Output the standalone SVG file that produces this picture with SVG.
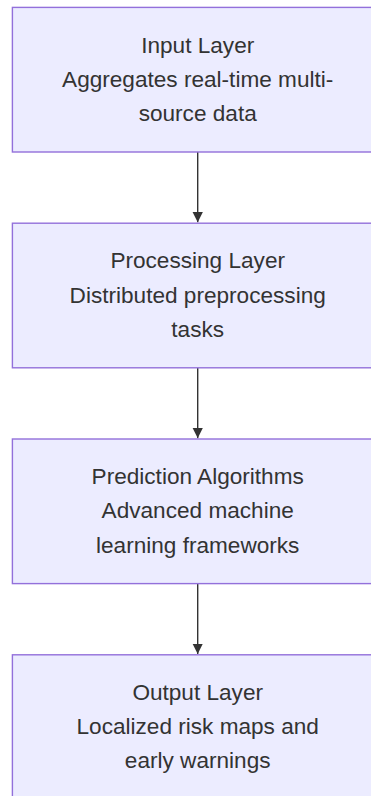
<svg xmlns="http://www.w3.org/2000/svg" width="371" height="796" viewBox="0 0 371 796">
<style>
.node rect{fill:#ECECFF;stroke:#9370DB;stroke-width:1.4}
.node text{font-family:"Liberation Sans",Arial,sans-serif;font-size:22.6px;fill:#333;text-anchor:middle}
.edge{stroke:#333;stroke-width:1.4;fill:none}
</style>
<defs>
<marker id="arrow" viewBox="0 0 10 10" refX="10" refY="5" markerWidth="7.5" markerHeight="7.5" markerUnits="strokeWidth" orient="auto">
<path d="M0,0 L10,5 L0,10 z" fill="#333"/>
</marker>
</defs>
<g id="connectors">
<path class="edge" d="M197.7,152 L197.7,222.3" marker-end="url(#arrow)"/>
<path class="edge" d="M197.7,367.8 L197.7,438.2" marker-end="url(#arrow)"/>
<path class="edge" d="M197.7,583.6 L197.7,654" marker-end="url(#arrow)"/>
</g>
<g id="input" class="node">
<rect x="12.4" y="7.4" width="371.4" height="144.6"/>
<text x="197.7" y="52.6">Input Layer</text>
<text x="197.7" y="86.9">Aggregates real-time multi-</text>
<text x="197.7" y="121.2">source data</text>
</g>
<g id="processing" class="node">
<rect x="12.4" y="223.2" width="371.4" height="144.6"/>
<text x="197.7" y="268.4">Processing Layer</text>
<text x="197.7" y="302.7">Distributed preprocessing</text>
<text x="197.7" y="337">tasks</text>
</g>
<g id="prediction" class="node">
<rect x="12.4" y="439" width="371.4" height="144.6"/>
<text x="197.7" y="484">Prediction Algorithms</text>
<text x="197.7" y="518.3">Advanced machine</text>
<text x="197.7" y="552.6">learning frameworks</text>
</g>
<g id="output" class="node">
<rect x="12.4" y="654.8" width="371.4" height="144.6"/>
<text x="197.7" y="699.8">Output Layer</text>
<text x="197.7" y="734.1">Localized risk maps and</text>
<text x="197.7" y="768.4">early warnings</text>
</g>
</svg>
